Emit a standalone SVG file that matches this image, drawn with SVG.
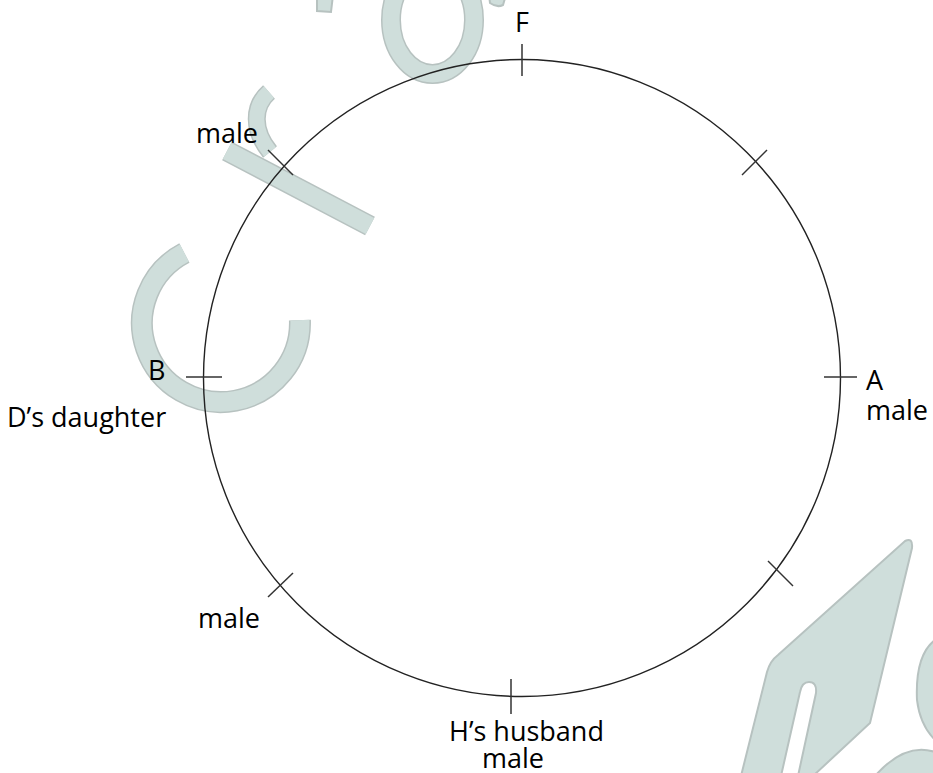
<svg xmlns="http://www.w3.org/2000/svg" width="933" height="773" viewBox="0 0 933 773">
<style>
.wm{fill:#cfdedb;stroke:#b7c2c0;stroke-width:2}
.wms{fill:none;stroke:#cfdedb;stroke-linecap:butt}
.wmo{fill:none;stroke:#b7c2c0;stroke-linecap:butt}
.tick{stroke:#333;stroke-width:1.5;fill:none}
.ring{stroke:#222;stroke-width:1.4;fill:none}
text{font-family:"Open Sans","Liberation Sans",sans-serif;font-size:27px;fill:#000}
</style>
<rect width="933" height="773" fill="#fff"/>
<g id="watermark">
  <path class="wmo" stroke-width="22" d="M 184.4 253 A 79 79 0 1 0 299.9 320.2"/>
  <path class="wms" stroke-width="19" d="M 184.4 253 A 79 79 0 1 0 299.9 320.2"/>
  <path class="wmo" stroke-width="21" d="M 227 151 L 370 226"/>
  <path class="wms" stroke-width="18" d="M 227 151 L 370 226"/>
  <path class="wmo" stroke-width="18" d="M 269 92 C 253 106 252 130 270 152"/>
  <path class="wms" stroke-width="15" d="M 269 92 C 253 106 252 130 270 152"/>
  <ellipse class="wmo" stroke-width="20" cx="432.5" cy="20" rx="41.5" ry="54"/>
  <ellipse class="wms" stroke-width="17" cx="432.5" cy="20" rx="41.5" ry="54"/>
  <path class="wm" d="M 489 -5 L 506 -5 L 503 5 Q 497 8 490 3 Z"/>
  <path class="wm" d="M 317 -5 L 333 -5 L 331 12 L 317 11 Z"/>
  <path class="wm" d="M 905 541 Q 913 537 912 548 L 870 723 L 813 776 L 798 776 L 816 693 Q 817 682 809 682 Q 802 682 800 692 L 781 776 L 741 776 L 767 672 Q 770 661 778 655 Z"/>
  <path class="wm" d="M 935 640 Q 915 655 917 700 Q 920 725 935 740 Z"/>
  <path class="wm" d="M 935 752 Q 905 742 875 776 L 935 776 Z"/>
</g>
<g id="connectors">
  <circle class="ring" cx="522" cy="378" r="318.5"/>
</g>
<g id="node-F">
  <line class="tick" x1="522" y1="44" x2="522" y2="76"/>
  <text x="515" y="32">F</text>
</g>
<g id="node-upper-right">
  <line class="tick" x1="742" y1="175" x2="767" y2="150"/>
</g>
<g id="node-A">
  <line class="tick" x1="824" y1="377" x2="857" y2="377"/>
  <text x="866" y="390">A</text>
  <text x="866" y="420">male</text>
</g>
<g id="node-lower-right">
  <line class="tick" x1="768" y1="561" x2="793" y2="586"/>
</g>
<g id="node-H-husband">
  <line class="tick" x1="511" y1="679" x2="511" y2="714"/>
  <text x="449" y="741">H’s husband</text>
  <text x="482" y="768">male</text>
</g>
<g id="node-lower-left">
  <line class="tick" x1="293" y1="573" x2="268" y2="597"/>
  <text x="198" y="628">male</text>
</g>
<g id="node-B">
  <line class="tick" x1="186" y1="377" x2="222" y2="377"/>
  <text x="148" y="380">B</text>
  <text x="7" y="427">D’s daughter</text>
</g>
<g id="node-upper-left">
  <line class="tick" x1="268" y1="150" x2="293" y2="175"/>
  <text x="196" y="143">male</text>
</g>
</svg>
